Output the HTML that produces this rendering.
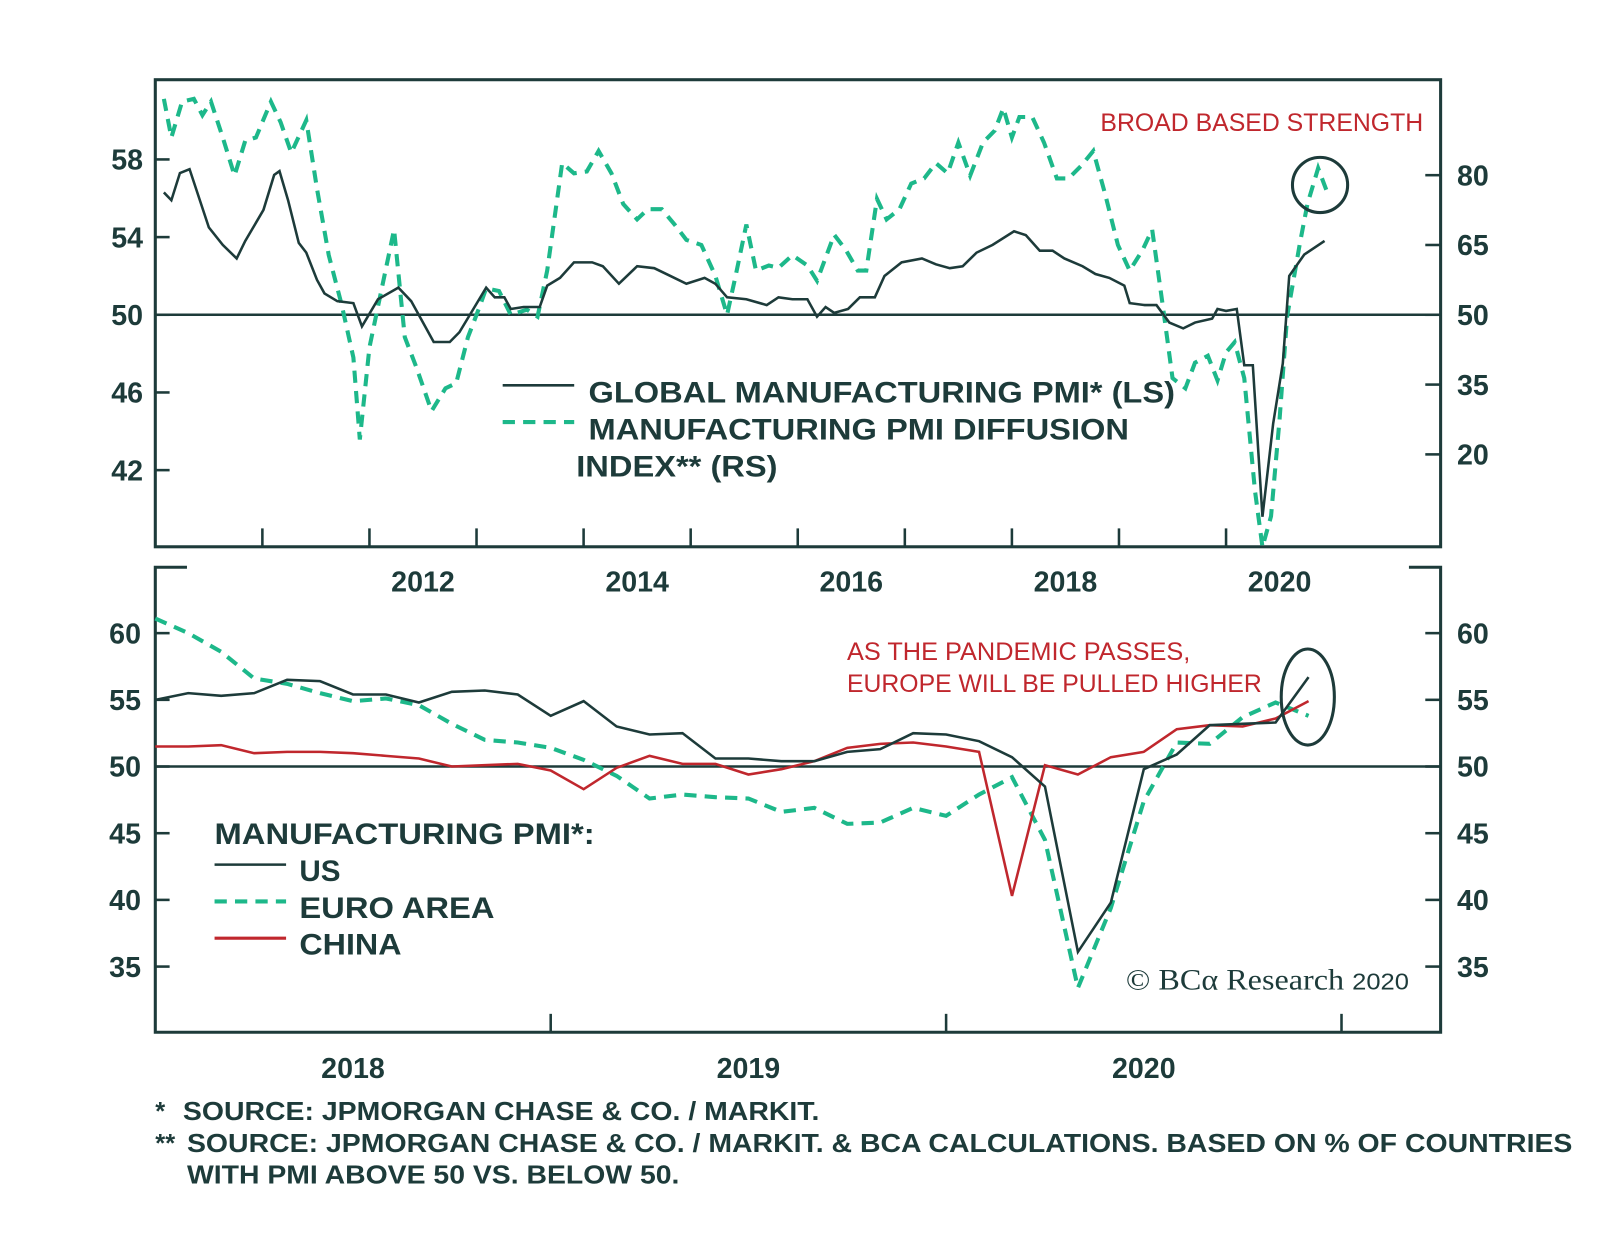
<!DOCTYPE html>
<html><head><meta charset="utf-8">
<style>
html,body{margin:0;padding:0;background:#fff;}
svg{display:block;}
text{font-family:"Liberation Sans",Arial,sans-serif;font-weight:bold;}
</style></head>
<body>
<svg id="chart" width="1600" height="1253" viewBox="0 0 1566 1226" preserveAspectRatio="none" xmlns="http://www.w3.org/2000/svg">
<g id="topPanel"></g>
<g id="botPanel"></g>
<g>
<text x="1077" y="128" font-size="24" fill="#c0272d" textLength="316" lengthAdjust="spacingAndGlyphs" style="font-weight:normal">BROAD BASED STRENGTH</text>
<circle cx="1292" cy="181" r="27" fill="none" stroke="#1d3b3a" stroke-width="3"/>
<text x="829" y="646" font-size="24" fill="#c0272d" textLength="336" lengthAdjust="spacingAndGlyphs" style="font-weight:normal">AS THE PANDEMIC PASSES,</text>
<text x="829" y="677" font-size="24" fill="#c0272d" textLength="406" lengthAdjust="spacingAndGlyphs" style="font-weight:normal">EUROPE WILL BE PULLED HIGHER</text>
<ellipse cx="1280" cy="682" rx="26" ry="47" fill="none" stroke="#1d3b3a" stroke-width="3"/>
</g>
<g fill="#1d3b3a">
<line x1="492" y1="377" x2="562" y2="377" stroke="#1d3b3a" stroke-width="2.5"/>
<line x1="492" y1="413" x2="562" y2="413" stroke="#1db88a" stroke-width="4" stroke-dasharray="12 8"/>
<text x="576" y="394" font-size="29" textLength="574" lengthAdjust="spacingAndGlyphs">GLOBAL MANUFACTURING PMI* (LS)</text>
<text x="576" y="430" font-size="29" textLength="529" lengthAdjust="spacingAndGlyphs">MANUFACTURING PMI DIFFUSION</text>
<text x="564" y="466" font-size="29" textLength="197" lengthAdjust="spacingAndGlyphs">INDEX** (RS)</text>
</g>
<g fill="#1d3b3a">
<text x="210" y="826" font-size="29" textLength="372" lengthAdjust="spacingAndGlyphs">MANUFACTURING PMI*:</text>
<line x1="210" y1="846" x2="280" y2="846" stroke="#1d3b3a" stroke-width="2.5"/>
<line x1="210" y1="882" x2="280" y2="882" stroke="#1db88a" stroke-width="4" stroke-dasharray="12 8"/>
<line x1="210" y1="918" x2="280" y2="918" stroke="#c0272d" stroke-width="3"/>
<text x="293" y="862" font-size="29">US</text>
<text x="293" y="898" font-size="29" textLength="191" lengthAdjust="spacingAndGlyphs">EURO AREA</text>
<text x="293" y="934" font-size="29" textLength="100" lengthAdjust="spacingAndGlyphs">CHINA</text>
<text x="1102" y="968" font-size="29" textLength="277" lengthAdjust="spacingAndGlyphs" style="font-family:'Liberation Serif',serif;font-weight:normal">© BCα Research <tspan style="font-family:'Liberation Sans',sans-serif;font-weight:normal" font-size="23">2020</tspan></text>
</g>
<g fill="#1d3b3a">
<text x="152" y="1096" font-size="25">*</text>
<text x="179" y="1096" font-size="25" textLength="623" lengthAdjust="spacingAndGlyphs">SOURCE: JPMORGAN CHASE &amp; CO. / MARKIT.</text>
<text x="152" y="1127" font-size="25">**</text>
<text x="183" y="1127" font-size="25" textLength="1356" lengthAdjust="spacingAndGlyphs">SOURCE: JPMORGAN CHASE &amp; CO. / MARKIT. &amp; BCA CALCULATIONS. BASED ON % OF COUNTRIES</text>
<text x="183" y="1158" font-size="25" textLength="482" lengthAdjust="spacingAndGlyphs">WITH PMI ABOVE 50 VS. BELOW 50.</text>
</g>
</svg>
<script>
// ---- top panel data (time = years since 2010) ----
const globalTimes=[.08,.15,.23,.32,.50,.63,.76,.84,1.01,1.11,1.16,1.24,1.34,1.41,1.51,1.58,1.70,1.85,1.93,2.08,2.27,2.39,2.50,2.60,2.75,2.84,2.96,3.09,3.17,3.26,3.32,3.44,3.59,3.66,3.78,3.91,4.08,4.18,4.33,4.50,4.66,4.81,4.96,5.13,5.23,5.34,5.52,5.71,5.82,5.95,6.09,6.18,6.26,6.34,6.47,6.58,6.72,6.81,6.97,7.16,7.29,7.42,7.54,7.67,7.82,8.02,8.13,8.26,8.38,8.49,8.66,8.78,8.91,9.05,9.10,9.24,9.35,9.47,9.60,9.71,9.87,9.92,10.00,10.10,10.17,10.25,10.34,10.44,10.53,10.59,10.73,10.92];
const globalPMI=[56.3,55.9,57.3,57.5,54.5,53.6,52.9,53.8,55.4,57.2,57.4,55.9,53.7,53.2,51.8,51.1,50.7,50.6,49.4,50.8,51.4,50.7,49.6,48.6,48.6,49.1,50.2,51.4,50.9,50.9,50.3,50.4,50.4,51.5,51.9,52.7,52.7,52.5,51.6,52.5,52.4,52.0,51.6,51.9,51.6,50.9,50.8,50.5,50.9,50.8,50.8,49.9,50.4,50.1,50.3,50.9,50.9,52.0,52.7,52.9,52.6,52.4,52.5,53.2,53.6,54.3,54.1,53.3,53.3,52.9,52.5,52.1,51.9,51.5,50.6,50.5,50.5,49.6,49.3,49.6,49.8,50.3,50.2,50.3,47.4,47.4,39.6,44.4,47.5,52.0,53.1,53.8];
const diffTimes=[.08,.15,.25,.36,.44,.52,.63,.74,.84,.94,1.08,1.17,1.27,1.41,1.51,1.62,1.74,1.85,1.91,2.00,2.14,2.23,2.33,2.44,2.58,2.71,2.81,2.92,3.03,3.09,3.21,3.32,3.47,3.57,3.66,3.80,3.91,4.03,4.14,4.26,4.37,4.50,4.60,4.73,4.85,4.96,5.10,5.23,5.34,5.42,5.52,5.61,5.73,5.82,5.95,6.09,6.18,6.24,6.34,6.45,6.56,6.64,6.74,6.83,6.95,7.06,7.18,7.29,7.40,7.50,7.61,7.73,7.84,7.92,8.00,8.07,8.19,8.30,8.42,8.53,8.65,8.76,8.87,8.99,9.10,9.22,9.31,9.41,9.50,9.62,9.71,9.83,9.92,10.00,10.08,10.17,10.27,10.34,10.42,10.50,10.57,10.69,10.76,10.86,10.95];
const diffIndex=[96.4,88.1,95.8,96.4,92.9,95.8,88.1,79.9,87.4,88.1,95.8,91.4,84.8,91.8,77.1,62.8,52.2,40.8,23.2,43,58.4,68.3,45.2,38.6,29.3,34.2,35.3,45.2,51.8,55.7,55.1,50,51.1,49.6,59.5,82.6,80.4,80.8,85.2,80.4,73.8,70.5,72.7,72.7,69.4,66.1,65,58.4,50,58.4,69.4,59.5,60.6,60.1,62.8,60.6,57.3,61,67.2,63.9,59.5,59.5,74.9,70.5,72.7,78.2,79.3,82.6,80.4,87,79.9,87,89.6,94.4,88.1,92.5,92.5,87,79.3,79.3,82.1,85.2,76,65,59.5,63.9,68.3,51.8,36.4,34.2,39.7,41.2,35.9,41.9,44.1,36.4,12.2,0.1,6.7,27.6,49.6,65.4,73.8,81.5,76];
const topLeftTicks=[58,54,50,46,42];
const topRightTicks=[80,65,50,35,20];
const topYears=[2012,2014,2016,2018,2020];
// ---- bottom panel data (monthly, Dec 2017 .. Nov 2020) ----
const usPMI=[55.0,55.5,55.3,55.5,56.5,56.4,55.4,55.4,54.8,55.6,55.7,55.4,53.8,54.9,53.0,52.4,52.5,50.6,50.6,50.4,50.4,51.1,51.3,52.5,52.4,51.9,50.7,48.5,36.1,39.8,49.8,50.9,53.1,53.2,53.3,56.7];
const euroPMI=[61.1,60.0,58.6,56.6,56.2,55.5,54.9,55.1,54.6,53.2,52.0,51.8,51.4,50.5,49.3,47.6,47.9,47.7,47.6,46.6,46.9,45.7,45.8,46.9,46.3,47.9,49.2,44.5,33.4,39.4,47.4,51.8,51.7,53.7,54.8,53.8];
const chinaPMI=[51.5,51.5,51.6,51.0,51.1,51.1,51.0,50.8,50.6,50.0,50.1,50.2,49.7,48.3,49.9,50.8,50.2,50.2,49.4,49.8,50.4,51.4,51.7,51.8,51.5,51.1,40.3,50.1,49.4,50.7,51.1,52.8,53.1,53.0,53.6,54.9];
const botTicks=[60,55,50,45,40,35];
const botYears=[2018,2019,2020];

(function(){
const NS='http://www.w3.org/2000/svg';
const DARK='#1d3b3a',GREEN='#1db88a',RED='#c0272d';
function mk(parent,tag,attrs){const e=document.createElementNS(NS,tag);for(const k in attrs)e.setAttribute(k,attrs[k]);parent.appendChild(e);return e;}
const L=152,R=1410;
const TT=78,TB=535;
const txT=t=>L+t*104.8;
const tyL=v=>308-(v-50)*19;
const tyR=v=>308-(v-50)*4.5533;
const tp=document.getElementById('topPanel');
const topFrame=mk(tp,'rect',{x:L,y:TT,width:R-L,height:TB-TT,fill:'none',stroke:DARK,'stroke-width':3});


const z1=mk(tp,'line',{x1:L,x2:R,y1:tyL(50),y2:tyL(50),stroke:DARK,'stroke-width':2.5});


topLeftTicks.forEach(v=>{
  mk(tp,'line',{x1:L,x2:L+14,y1:tyL(v),y2:tyL(v),stroke:DARK,'stroke-width':2.5});
  const t=mk(tp,'text',{x:140,y:tyL(v)+10,'text-anchor':'end','font-size':28,fill:DARK});t.textContent=v;
  
  
});
topRightTicks.forEach(v=>{
  mk(tp,'line',{x1:R-15,x2:R,y1:tyR(v),y2:tyR(v),stroke:DARK,'stroke-width':2.5});
  const t=mk(tp,'text',{x:1426,y:tyR(v)+10,'font-size':28,fill:DARK});t.textContent=v;
  
  
});
for(let y=2011;y<=2020;y++){mk(tp,'line',{x1:txT(y-2010),x2:txT(y-2010),y1:TB,y2:TB-18,stroke:DARK,'stroke-width':2.5});}
topYears.forEach(y=>{
  const t=mk(tp,'text',{x:txT(y-2010+0.5),y:579,'text-anchor':'middle','font-size':28,fill:DARK});t.textContent=y;
  
  
});
const dP=mk(tp,'polyline',{points:diffTimes.map((t,i)=>txT(t)+','+tyR(diffIndex[i])).join(' '),fill:'none',stroke:GREEN,'stroke-width':4,'stroke-dasharray':'12 8'});


const gP=mk(tp,'polyline',{points:globalTimes.map((t,i)=>txT(t)+','+tyL(globalPMI[i])).join(' '),fill:'none',stroke:DARK,'stroke-width':2.5});


const BT=555,BB=1010;
const bx=i=>L+i*32.25;
const by=v=>750-(v-50)*13.05;
const bp=document.getElementById('botPanel');
const bf=mk(bp,'path',{d:`M${L+31},${BT} H${L} V${BB} H${R} V${BT} H${R-31}`,fill:'none',stroke:DARK,'stroke-width':3});


const z2=mk(bp,'line',{x1:L,x2:R,y1:by(50),y2:by(50),stroke:DARK,'stroke-width':2.5});


botTicks.forEach(v=>{
  mk(bp,'line',{x1:L,x2:L+14,y1:by(v),y2:by(v),stroke:DARK,'stroke-width':2.5});
  mk(bp,'line',{x1:R-15,x2:R,y1:by(v),y2:by(v),stroke:DARK,'stroke-width':2.5});
  const t=mk(bp,'text',{x:138,y:by(v)+10,'text-anchor':'end','font-size':28,fill:DARK});t.textContent=v;
  
  
  const t2=mk(bp,'text',{x:1426,y:by(v)+10,'font-size':28,fill:DARK});t2.textContent=v;
  
  
});
botYears.forEach((y,k)=>{
  const xx=L+(k+1)*387;
  mk(bp,'line',{x1:xx,x2:xx,y1:BB,y2:BB-18,stroke:DARK,'stroke-width':2.5});
  const t=mk(bp,'text',{x:L+(k+0.5)*387,y:1055,'text-anchor':'middle','font-size':28,fill:DARK});t.textContent=y;
  
  
});
const eP=mk(bp,'polyline',{points:euroPMI.map((v,i)=>bx(i)+','+by(v)).join(' '),fill:'none',stroke:GREEN,'stroke-width':4,'stroke-dasharray':'12 8'});


const cP=mk(bp,'polyline',{points:chinaPMI.map((v,i)=>bx(i)+','+by(v)).join(' '),fill:'none',stroke:RED,'stroke-width':2.5});


const uP=mk(bp,'polyline',{points:usPMI.map((v,i)=>bx(i)+','+by(v)).join(' '),fill:'none',stroke:DARK,'stroke-width':2.5});


})();
</script>
</body></html>
